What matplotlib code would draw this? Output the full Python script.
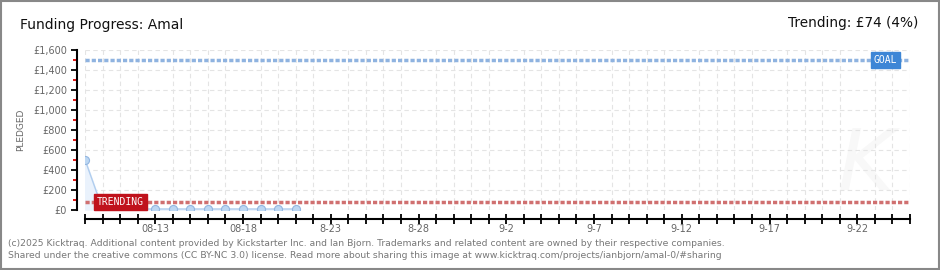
import matplotlib.pyplot as plt
import pandas as pd

# Data
dates = pd.date_range('2025-08-09', '2025-08-21')
pledged = [500, 5, 5, 5, 5, 5, 5, 5, 5, 5, 5, 5, 5]
goal = 1500
trending = 74
label_dates = pd.to_datetime(['2025-08-13', '2025-08-18', '2025-08-23', '2025-08-28', '2025-09-02',
                              '2025-09-07', '2025-09-12', '2025-09-17', '2025-09-22'])
label_texts = ['08-13', '08-18', '8-23', '8-28', '9-2', '9-7', '9-12', '9-17', '9-22']
y_ticks = [0, 200, 400, 600, 800, 1000, 1200, 1400, 1600]
y_labels = ['£0', '£200', '£400', '£600', '£800', '£1,000', '£1,200', '£1,400', '£1,600']

start = pd.Timestamp('2025-08-09')
end = pd.Timestamp('2025-09-25')

plt.rcParams['font.family'] = ['DejaVu Sans']

fig = plt.figure(figsize=(9.4, 2.7), dpi=100)
ax = fig.add_axes([85 / 940, 1 - 209.5 / 270, 825 / 940, 159.5 / 270])

# Grid
ax.set_xlim(start, end)
ax.set_ylim(0, 1600)
ax.set_xticks(pd.date_range(start, end), minor=True)
ax.set_yticks(y_ticks)
ax.grid(True, which='major', axis='y', color='#e4e4e4', linestyle=(0, (4, 3)), linewidth=0.8)
ax.grid(True, which='minor', axis='x', color='#e4e4e4', linestyle=(0, (4, 3)), linewidth=0.8)
ax.set_axisbelow(True)

# Pledge line with fill
ax.fill_between(dates, pledged, 0, color='#eaf2fc', zorder=1)
ax.plot(dates, pledged, color='#b0cdee', linewidth=1, zorder=2)
ax.plot(dates, pledged, 'o', markersize=5.8, markerfacecolor='#bcd7f3', markeredgecolor='#93b6e0',
        markeredgewidth=0.8, zorder=3)

# Goal and trending lines
ax.axhline(goal, color='#8fb3e0', linestyle=(0, (1.2, 0.6)), linewidth=2.5, zorder=2)
ax.axhline(trending, color='#d07070', linestyle=(0, (1.2, 0.6)), linewidth=2.5, zorder=2)
ax.text(pd.Timestamp('2025-09-22 22:00'), goal, 'GOAL', color='white', fontsize=7, va='center',
        ha='left', family='DejaVu Sans Mono',
        bbox=dict(boxstyle='square,pad=0.3', fc='#3d86d6', ec='#3d86d6'), zorder=4)
ax.text(pd.Timestamp('2025-08-09 16:00'), trending, 'TRENDING', color='white', fontsize=7,
        va='center', ha='left', family='DejaVu Sans Mono',
        bbox=dict(boxstyle='square,pad=0.3', fc='#c0121c', ec='#c0121c'), zorder=4)

# Watermark
ax.text(pd.Timestamp('2025-09-22 12:00'), 430, 'K', fontsize=62, color='#f8f8f8', style='italic',
        ha='center', va='center', zorder=0)

# Spines and ticks
for s in ['top', 'right']:
    ax.spines[s].set_visible(False)
ax.spines['left'].set_position(('outward', 6))
ax.spines['bottom'].set_position(('outward', 7))
ax.spines['left'].set_linewidth(1.5)
ax.spines['bottom'].set_linewidth(1.5)
ax.set_yticklabels(y_labels)
ax.set_yticks([100, 300, 500, 700, 900, 1100, 1300, 1500], minor=True)
ax.tick_params(axis='y', which='major', length=4, width=1.3, color='black', labelsize=7,
               labelcolor='#666666', pad=3)
ax.tick_params(axis='y', which='minor', length=3, width=1.3, color='#dd0000')
ax.set_xticks(label_dates)
ax.set_xticklabels(label_texts)
ax.tick_params(axis='x', which='both', direction='inout', length=7, width=1.3, color='black',
               labelsize=7, labelcolor='#666666', pad=0)
ax.set_ylabel('PLEDGED', fontsize=6.5, color='#666666')
ax.yaxis.set_label_coords(-0.072, 0.5)

# Titles
fig.text(20 / 940, 1 - 25 / 270, 'Funding Progress: Amal', fontsize=10, color='#111111',
         va='center')
fig.text(918 / 940, 1 - 23 / 270, 'Trending: £74 (4%)', fontsize=9.8, color='#111111', va='center',
         ha='right')

# Footer
fig.text(8 / 940, 1 - 243 / 270,
         '(c)2025 Kicktraq. Additional content provided by Kickstarter Inc. and Ian Bjorn. Trademarks '
         'and related content are owned by their respective companies.',
         fontsize=6.7, color='#777777', va='center')
fig.text(8 / 940, 1 - 256 / 270,
         'Shared under the creative commons (CC BY-NC 3.0) license. Read more about sharing this image '
         'at www.kicktraq.com/projects/ianbjorn/amal-0/#sharing',
         fontsize=6.7, color='#777777', va='center')

# Border
fig.patches.append(plt.Rectangle((0.001, 0.002), 0.998, 0.996, transform=fig.transFigure,
                                 fill=False, edgecolor='#888888', linewidth=1.5))

fig.savefig('out.png', dpi=100)
